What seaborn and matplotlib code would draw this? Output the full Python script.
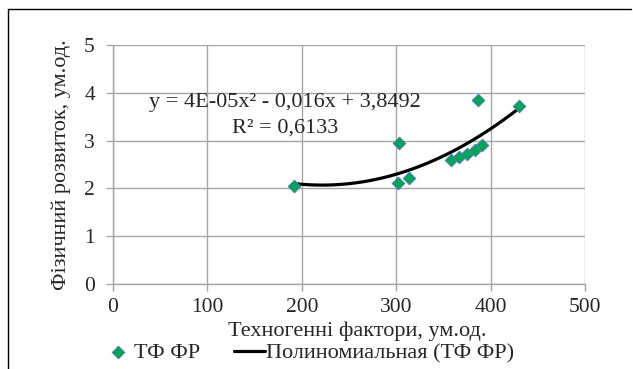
import pandas as pd
import matplotlib.pyplot as plt
from matplotlib.lines import Line2D
import seaborn as sns

# Дані з діаграми
techno = [192, 302, 303, 314, 358, 367, 375, 384, 387, 391, 430]
phys = [2.05, 2.12, 2.94, 2.21, 2.59, 2.65, 2.72, 2.80, 3.86, 2.91, 3.73]
x_ticks = [0, 100, 200, 300, 400, 500]
y_ticks = [0, 1, 2, 3, 4, 5]
eq_text = 'y = 4E-05x² - 0,016x + 3,8492'
r2_text = 'R² = 0,6133'

df = pd.DataFrame({'x': techno, 'y': phys})

sns.set_style('white')
plt.rcParams['font.family'] = ['Liberation Serif', 'DejaVu Serif']
fs = 15.5

fig = plt.figure(figsize=(6.33, 3.69), dpi=100)
ax = fig.add_axes([0.1785, 0.2304, 0.7455, 0.6476])

grid_c = '#a6a6a6'
ax.grid(True, color=grid_c, linewidth=1)
ax.set_axisbelow(True)

sns.regplot(data=df, x='x', y='y', order=2, ci=None, truncate=True,
            scatter=False, ax=ax, label='Полиномиальная (ТФ ФР)',
            line_kws={'color': 'black', 'linewidth': 2.3})
trend = ax.lines[-1]
sns.scatterplot(data=df, x='x', y='y', marker='D', s=40, color='#00a651',
                edgecolor='#4a7ebb', linewidth=0.8, ax=ax, zorder=3,
                legend=False)
pts = ax.collections[-1]

ax.set_xlim(0, 500)
ax.set_ylim(0, 5)
ax.set_xticks(x_ticks)
ax.set_yticks(y_ticks)
ax.tick_params(axis='both', length=5, width=1, color=grid_c,
               labelsize=fs, direction='out', bottom=True, left=True)
ax.tick_params(axis='y', pad=8)
ax.tick_params(axis='x', pad=5)
for s in ['top', 'right']:
    ax.spines[s].set_visible(False)
for s in ['left', 'bottom']:
    ax.spines[s].set_color(grid_c)
    ax.spines[s].set_linewidth(1)

ax.set_xlabel('Техногенні фактори, ум.од.', fontsize=16)
ax.xaxis.set_label_coords(357 / 633, 1 - 331 / 369, transform=fig.transFigure)
ax.xaxis.label.set_va('center')
ax.set_ylabel('Фізичний розвиток, ум.од.', fontsize=16)
ax.yaxis.set_label_coords(61 / 633, 1 - 165 / 369, transform=fig.transFigure)
ax.yaxis.label.set_va('center')

ax.text(182.6, 3.79, eq_text, fontsize=16, va='center', ha='center')
ax.text(182.6, 3.27, r2_text, fontsize=16, va='center', ha='center')

ax.legend([pts, trend], ['ТФ ФР', 'Полиномиальная (ТФ ФР)'],
          loc='center', bbox_to_anchor=(308 / 633, 1 - 353 / 369),
          bbox_transform=fig.transFigure, ncol=2, frameon=False,
          fontsize=16, handlelength=1.4, handletextpad=0.05,
          columnspacing=1.5, borderpad=0)

# рамка
fig.add_artist(Line2D([8 / 633, 631 / 633], [1 - 9 / 369, 1 - 9 / 369],
                      color='black', linewidth=1, transform=fig.transFigure))
fig.add_artist(Line2D([8 / 633, 8 / 633], [0, 1 - 9 / 369],
                      color='black', linewidth=1, transform=fig.transFigure))

fig.savefig('out.png', dpi=100, facecolor='white')
plt.close(fig)
